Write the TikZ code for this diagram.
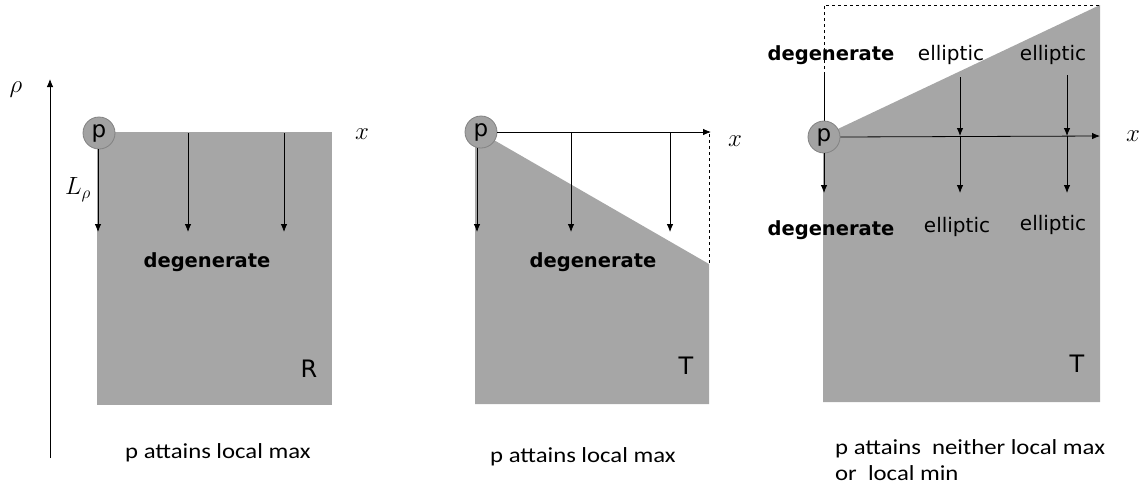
\documentclass[tikz,border=0pt]{standalone}
\usepackage{fontspec}
\setmainfont{DejaVu Sans}
\newfontfamily\capfont{Carlito}[FakeStretch=1.15]
\usetikzlibrary{arrows.meta}
\definecolor{fillg}{RGB}{166,166,166}
\definecolor{pfill}{RGB}{162,162,162}
\definecolor{pedge}{RGB}{130,130,130}
\tikzset{
 pnode/.style={circle, fill=pfill, draw=pedge, line width=0.8pt, minimum size=32pt, inner sep=0pt, font=\fontsize{23}{24}\selectfont},
 arr/.style={-{Latex[length=8pt,width=6.5pt]}, line width=0.8pt},
 lab/.style={font=\fontsize{20}{22}\selectfont, inner sep=0pt, anchor=base},
 blab/.style={font=\fontsize{19.5}{22}\selectfont\bfseries, inner sep=0pt, anchor=base},
 biglab/.style={font=\fontsize{24}{26}\selectfont, inner sep=0pt},
 captxt/.style={font=\capfont\fontsize{21.5}{26}\selectfont, inner sep=0pt, anchor=base west},
 mlab/.style={font=\fontsize{25}{27}\selectfont, inner sep=0pt},
 dash line/.style={dashed, line width=0.7pt},
}
\begin{document}
\begin{tikzpicture}[x=1pt,y=-1pt]
\useasboundingbox (0,0) rectangle (1147,493);
% ---------- panel 1 ----------
\fill[fillg] (97,132) rectangle (332,405);
\coordinate (ab) at (50,458); \coordinate (at) at (50,79);
\draw[arr] (ab) -- (at);
\node[mlab] (rho) at (16,90) {$\rho$};
\coordinate (s12) at (188,133); \coordinate (e12) at (188,232);
\coordinate (s13) at (284,133); \coordinate (e13) at (284,232);
\coordinate (e11) at (98,232);
\draw[arr] (s12) -- (e12);
\draw[arr] (s13) -- (e13);
\node[pnode] (p1) at (99,133) {p};
\draw[arr] (p1.south -| e11) -- (e11);
\node[mlab] (L) at (78,190) {$L_\rho$};
\node[mlab, font=\fontsize{26}{28}\selectfont] (x1) at (362,134) {$x$};
\node[blab] (deg1) at (207,267) {degenerate};
\node[biglab] (R) at (309,369) {R};
\node[captxt] (cap1) at (125,458) {p attains local max};
% ---------- panel 2 ----------
\fill[fillg] (475,132) -- (480,132) -- (709,264) -- (709,404) -- (475,404) -- cycle;
\coordinate (d2t) at (709,134); \coordinate (d2b) at (709,264);
\draw[dash line] (d2t) -- (d2b);
\coordinate (x2e) at (711,132);
\coordinate (s22) at (571,132); \coordinate (e22) at (571,232);
\coordinate (s23) at (670,132); \coordinate (e23) at (670,232);
\coordinate (e21) at (477,232);
\node[pnode] (p2) at (481,132) {p};
\draw[arr] (p2.east) -- (x2e);
\draw[arr] (s22) -- (e22);
\draw[arr] (s23) -- (e23);
\draw[arr] (p2.south -| e21) -- (e21);
\node[mlab, font=\fontsize{26}{28}\selectfont] (x2) at (735,141) {$x$};
\node[blab] (deg2) at (593,267) {degenerate};
\node[biglab] (T2) at (686,366) {T};
\node[captxt] (cap2) at (490,462) {p attains local max};
% ---------- panel 3 ----------
\fill[fillg] (823,136) -- (1100,5) -- (1100,402) -- (823,402) -- cycle;
\coordinate (d3a) at (824,75); \coordinate (d3b) at (824,5); \coordinate (d3c) at (1100,5);
\draw[dash line] (d3a) -- (d3b) -- (d3c);
\coordinate (s31) at (824,75); \coordinate (m31) at (824,136); \coordinate (e31) at (824,193);
\coordinate (s32) at (960,77); \coordinate (m32) at (960,136); \coordinate (e32) at (960,193);
\coordinate (s33) at (1067,75); \coordinate (m33) at (1067,136); \coordinate (e33) at (1067,193);
\coordinate (x3e) at (1100,136);
\draw[line width=0.8pt] (s31) -- (m31);
\draw[arr] (s32) -- (m32);
\draw[arr] (m32) -- (e32);
\draw[arr] (s33) -- (m33);
\draw[arr] (m33) -- (e33);
\node[pnode] (p3) at (824,137) {p};
\draw[arr] (p3.east) -- (x3e);
\draw[arr] (p3.south) -- (e31);
\node[mlab, font=\fontsize{26}{28}\selectfont] (x3) at (1133,136) {$x$};
\node[blab] (deg3a) at (831,60) {degenerate};
\node[lab] (el3a) at (951,60) {elliptic};
\node[lab] (el3b) at (1053,60) {elliptic};
\node[blab] (deg3b) at (831,235) {degenerate};
\node[lab] (el3c) at (957,232) {elliptic};
\node[lab] (el3d) at (1053,230) {elliptic};
\node[biglab] (T3) at (1077,364) {T};
\node[captxt] (cap3a) at (835,454) {p attains \ neither local max};
\node[captxt] (cap3b) at (835,480) {or \ local min};
\end{tikzpicture}
\end{document}
